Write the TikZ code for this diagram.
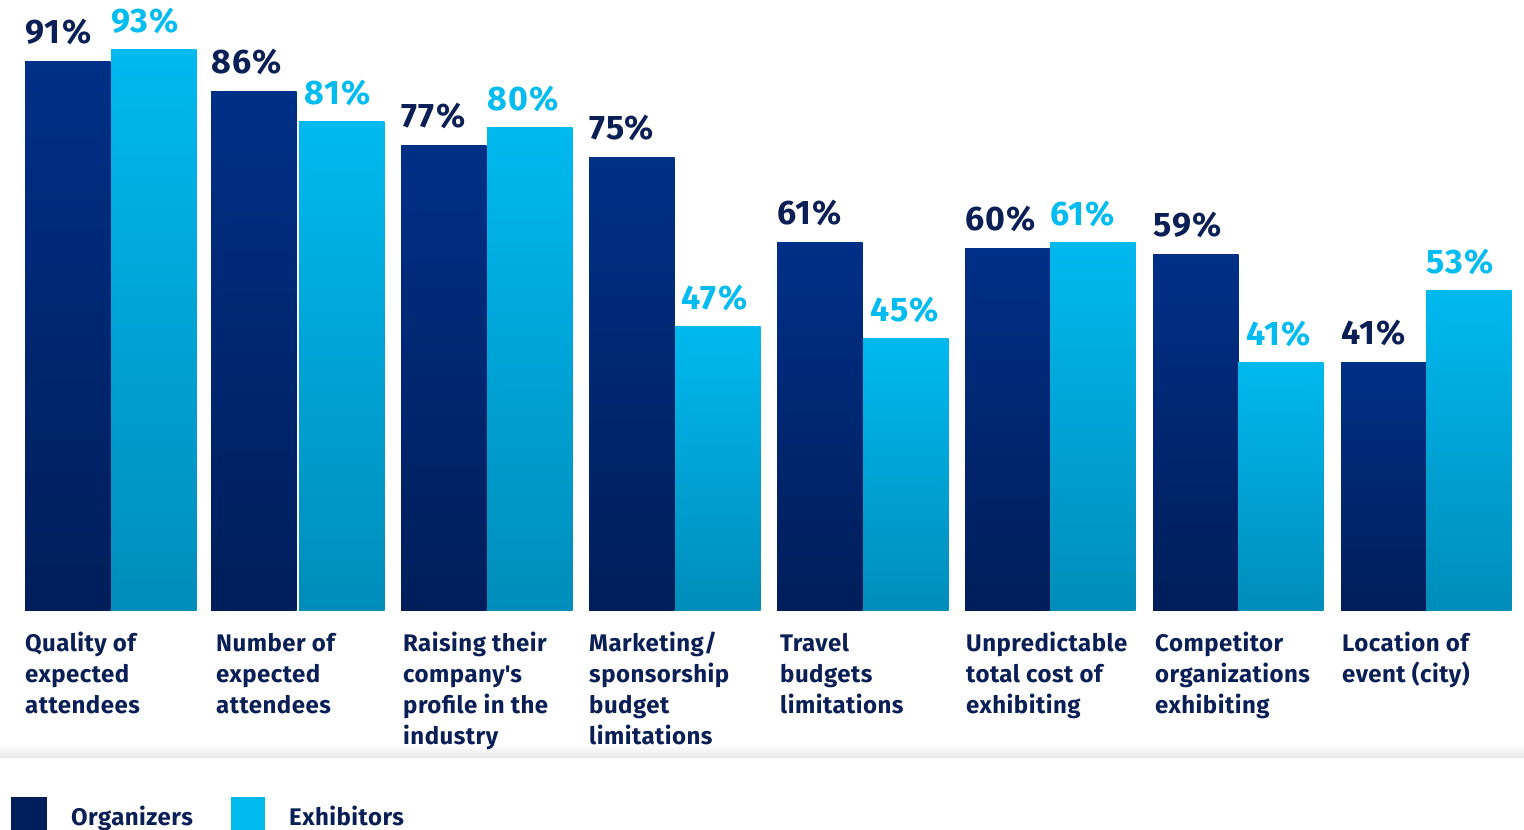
\documentclass[tikz,border=0pt]{standalone}
\usepackage{fontspec}
\setmainfont{Fira Sans}
\usepackage{tikz}
\usepackage{xcolor}

\definecolor{orgtop}{HTML}{003087}
\definecolor{orgbot}{HTML}{001E5A}
\definecolor{exhtop}{HTML}{00B9EF}
\definecolor{exhbot}{HTML}{008DBA}
\definecolor{orgtext}{HTML}{0A1F55}
\definecolor{exhtext}{HTML}{00BCF0}

\tikzset{
  orgbar/.style={top color=orgtop, bottom color=orgbot},
  exhbar/.style={top color=exhtop, bottom color=exhbot},
  pct/.style={anchor=base west, inner sep=0pt,
    font=\fontsize{34}{34}\selectfont\bfseries\addfontfeature{LetterSpace=4}},
  catlabel/.style={anchor=north west, inner sep=0pt, align=left, text=orgtext,
    font=\fontsize{24}{31}\selectfont\bfseries\addfontfeature{LetterSpace=2}},
  legtext/.style={anchor=base west, inner sep=0pt, text=orgtext,
    font=\fontsize{24}{24}\selectfont\bfseries\addfontfeature{LetterSpace=2}}
}

\begin{document}
\begin{tikzpicture}[x=1pt, y=-1pt]
    \def\base{610}
    \def\w{85.5}
    \def\s{6.03}

    \useasboundingbox (0,0) rectangle (1524,830);

    % separator shadow
    \shade[top color=white, bottom color=black!9] (0,744) rectangle (1524,757);

    % x of bar pair / x of exhibitors bar / shift of exhibitors value / x of text / values / text
    \foreach \i/\xl/\xm/\dx/\xt/\org/\exh/\lbl in {%
        0/25/111/0/25/91/93/{Quality of\\expected\\attendees},
        1/211/299/5/216/86/81/{Number of\\expected\\attendees},
        2/401/487/0/403/77/80/{Raising their\\company\textquotesingle s\\profile in the\\industry},
        3/589/675/6/589/75/47/{Marketing/\\sponsorship\\budget\\limitations},
        4/777/863/7/780/61/45/{Travel\\budgets\\limitations},
        5/965/1050/0/966/60/61/{Unpredictable\\total cost of\\exhibiting},
        6/1153/1238/8/1155/59/41/{Competitor\\organizations\\exhibiting},
        7/1341/1426/0/1342/41/53/{Location of\\event (city)}}
    {
        \pgfmathsetmacro\xo{\xl+\w}
        \pgfmathsetmacro\xr{\xm+\w}
        \pgfmathsetmacro\yo{\base-\org*\s}
        \pgfmathsetmacro\ye{\base-\exh*\s}

        \shade[orgbar] (\xl,\base) rectangle (\xo,\yo);
        \shade[exhbar] (\xm,\base) rectangle (\xr,\ye);

        \node[pct, text=orgtext] (orgval\i) at (\xl,\yo-18) {\org\%};
        \node[pct, text=exhtext] (exhval\i) at (\xm+\dx,\ye-17) {\exh\%};

        \node[catlabel] (cat\i) at (\xt,629.5) {\strut\lbl};
    }

    % legend
    \fill[orgbot] (11,797) rectangle (47,830);
    \node[legtext] (legorg) at (71,825) {Organizers};
    \fill[exhtop] (231,797) rectangle (265,830);
    \node[legtext] (legexh) at (289,825) {Exhibitors};

\end{tikzpicture}
\end{document}
